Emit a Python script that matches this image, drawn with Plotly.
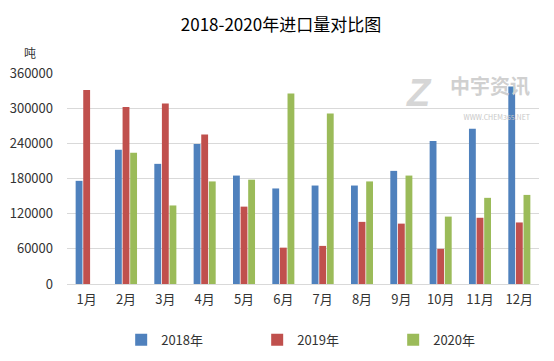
import plotly.graph_objects as go

months = ["1月", "2月", "3月", "4月", "5月", "6月", "7月", "8月", "9月", "10月", "11月", "12月"]
v2018 = [176000, 229000, 205000, 239000, 185000, 163000, 168000, 168000, 193000, 244000, 265000, 337000]
v2019 = [331000, 302000, 308000, 255000, 132000, 62000, 65000, 106000, 103000, 60000, 113000, 105000]
v2020 = [None, 224000, 134000, 175000, 178000, 325000, 291000, 175000, 185000, 115000, 147000, 152000]
series = [("2018年", v2018, "#4F81BD"), ("2019年", v2019, "#C0504D"), ("2020年", v2020, "#9BBB59")]
ticks = [0, 60000, 120000, 180000, 240000, 300000, 360000]

fig = go.Figure()
for name, vals, col in series:
    fig.add_trace(go.Bar(x=months, y=vals, name=name, marker_color=col, marker_line_width=0))

font = "Microsoft YaHei, Noto Sans CJK SC, sans-serif"
fig.update_layout(
    width=546, height=353,
    margin=dict(l=59, r=15, t=65, b=77, autoexpand=False),
    paper_bgcolor="white", plot_bgcolor="white",
    font=dict(family=font, color="#595959", size=12),
    title=dict(text="2018-2020年进口量对比图", x=0.5, xanchor="center", y=0.952, yanchor="middle",
               font=dict(size=17, color="#000000", family=font)),
    barmode="group", bargap=0.42, bargroupgap=0.1,
    showlegend=True,
    legend=dict(orientation="h", x=0.547, xanchor="center", y=-0.265, yanchor="middle",
                entrywidth=91, font=dict(size=13, color="#333333"), traceorder="normal"),
    xaxis=dict(showgrid=False, showline=True, linecolor="#D9D9D9", ticks="",
               tickfont=dict(size=13, color="#333333"), ticklabelstandoff=3),
    yaxis=dict(range=[0, 360000], tickvals=ticks, ticktext=[str(t) for t in ticks],
               showgrid=True, gridcolor="#D9D9D9", zeroline=False, showline=False,
               tickfont=dict(size=13, color="#333333"), ticklabelstandoff=13),
)
fig.add_annotation(text="吨", xref="paper", yref="paper", x=-0.078, y=1.095, showarrow=False,
                   font=dict(size=12, color="#333333"), xanchor="center", yanchor="middle", borderpad=0)
fig.add_annotation(text="<b><i>Z</i></b>", xref="paper", yref="paper", x=0.746, y=0.905, showarrow=False,
                   font=dict(size=38, color="#D6D6D6", family="Arial"), xanchor="center", yanchor="middle")
fig.add_annotation(text="<b>中宇资讯</b><br><span style='font-size:7px;color:#C8C8C8'>WWW.CHEM365.NET</span>",
                   xref="paper", yref="paper", x=0.985, y=0.89, showarrow=False, align="right",
                   font=dict(size=20, color="#D0D0D0"), xanchor="right", yanchor="middle")
fig.write_html("out.html")
